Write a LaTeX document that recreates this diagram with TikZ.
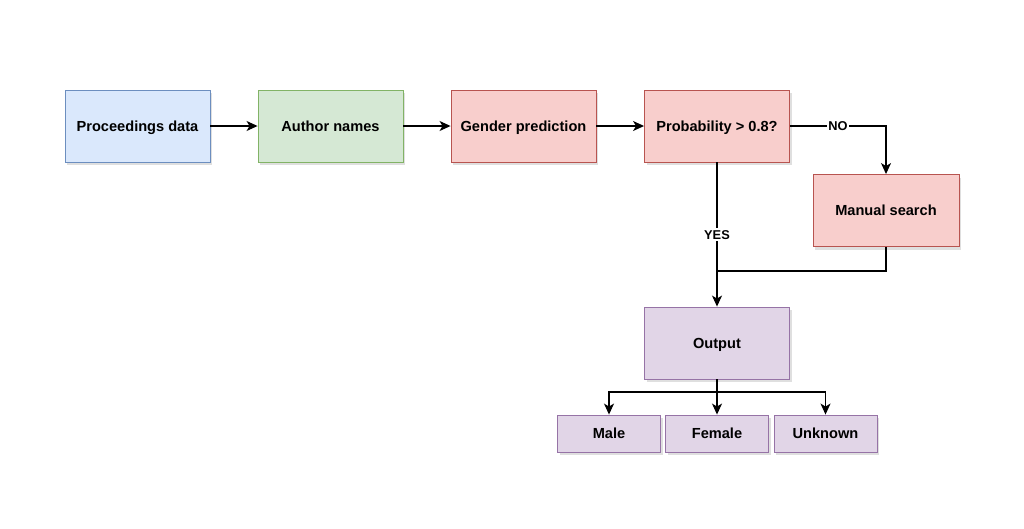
\documentclass[tikz,border=0pt]{standalone}
\usepackage{fontspec}
\setmainfont{Liberation Sans}
\usetikzlibrary{arrows.meta,shadows}
\definecolor{blueF}{HTML}{DAE8FC}\definecolor{blueD}{HTML}{6C8EBF}
\definecolor{greenF}{HTML}{D5E8D4}\definecolor{greenD}{HTML}{82B366}
\definecolor{redF}{HTML}{F8CECC}\definecolor{redD}{HTML}{B85450}
\definecolor{purpleF}{HTML}{E1D5E7}\definecolor{purpleD}{HTML}{9673A6}
\begin{document}
\begin{tikzpicture}[x=1pt, y=-1pt,
  box/.style={draw, line width=0.9pt, minimum width=145pt, minimum height=72pt,
    text height=10.4pt, text depth=0pt,
    font=\bfseries\fontsize{14.6}{17}\selectfont,
    drop shadow={shadow xshift=2pt, shadow yshift=-3pt, opacity=0.25}},
  smallbox/.style={box, minimum width=103pt, minimum height=37pt},
  lbl/.style={fill=white, inner sep=1.5pt, text height=9.2pt, text depth=0pt,
    font=\bfseries\fontsize{12.8}{15}\selectfont},
  conn/.style={-{Stealth[length=11pt,width=10pt,inset=3pt]}, line width=1.2pt}]
\useasboundingbox[fill=white] (0,0) rectangle (1024,528);

\node[box, fill=blueF, draw=blueD] (proc) at (137.5,126) {Proceedings data};
\node[box, fill=greenF, draw=greenD] (author) at (330.5,126) {Author names};
\node[box, fill=redF, draw=redD] (gender) at (523.5,126) {Gender prediction};
\node[box, fill=redF, draw=redD] (prob) at (717,126) {Probability > 0.8?};
\node[box, fill=redF, draw=redD, minimum width=146pt] (manual) at (886,210.5) {Manual search};
\node[box, fill=purpleF, draw=purpleD] (output) at (717,343) {Output};
\node[smallbox, fill=purpleF, draw=purpleD] (male) at (609,433.5) {Male};
\node[smallbox, fill=purpleF, draw=purpleD] (female) at (717,433.5) {Female};
\node[smallbox, fill=purpleF, draw=purpleD] (unknown) at (825.5,433.5) {Unknown};

\coordinate (join) at (717,271);
\coordinate (split) at (717,392);

\draw[conn](proc)--(author);
\draw[conn](author)--(gender);
\draw[conn](gender)--(prob);
\draw[conn](prob.east)-|node[lbl, pos=.25]{NO}(manual.north);
\draw[conn](prob.south)--node[lbl]{YES}(output.north);
\draw[line width=1.2pt](manual.south)|-(join);

\draw[line width=1.2pt](output.south)--(split);
\draw[conn](split)-|(male.north);
\draw[conn](split)--(female.north);
\draw[conn](split)-|(unknown.north);
\end{tikzpicture}
\end{document}
